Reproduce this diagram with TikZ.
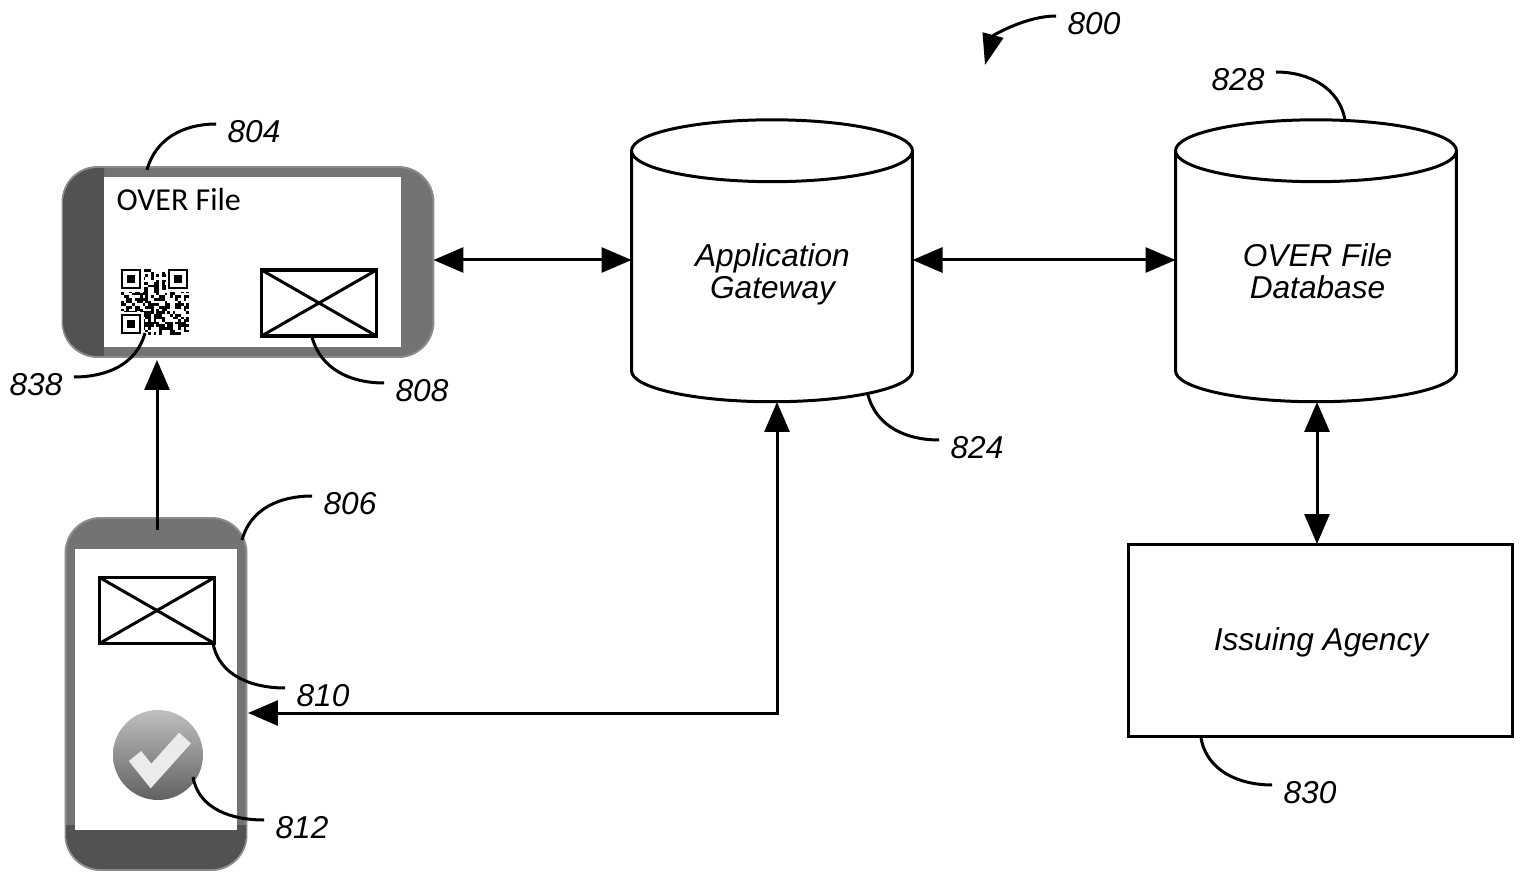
\documentclass[tikz,border=0pt]{standalone}
\usepackage{fontspec}
\setmainfont{Liberation Sans}
\newfontfamily\screenfont{Carlito}
\usetikzlibrary{arrows.meta,calc,positioning,shapes.geometric}

\begin{document}
\begin{tikzpicture}[x=0.02cm,y=-0.02cm,line width=0.06cm,
    bigtext/.style={font=\fontsize{18}{18.2}\selectfont\itshape,align=center},
    reflabel/.style={font=\fontsize{18}{20}\selectfont\itshape,inner sep=0.2cm},
    leader/.style={line width=0.06cm},
    link/.style={{Triangle[length=0.6cm,width=0.5cm]}-{Triangle[length=0.6cm,width=0.5cm]}},
    uplink/.style={-{Triangle[length=0.6cm,width=0.5cm]}},
    dbcyl/.style={cylinder,draw,bigtext,shape border rotate=90,aspect=0.4,minimum width=5.62cm,minimum height=5.64cm,outer sep=0pt,inner sep=0pt},
    phonebody/.style={fill=black!55,draw=black!45,line width=0.04cm,rounded corners=0.7cm,outer sep=0pt},
    screenbox/.style={fill=white,inner sep=0pt,outer sep=0pt},
    envbox/.style={draw,fill=white,line width=0.07cm,minimum width=2.3cm,minimum height=1.32cm,inner sep=0pt,outer sep=0pt}]
  \useasboundingbox (0,0) rectangle (1522,878);
  % Landscape phone
  \node[phonebody,minimum width=7.42cm,minimum height=3.8cm] (phonea) at (248,262) {};
  \fill[black!68] (104,168) [rounded corners=0.7cm] -- (63,168) -- (63,356) [sharp corners] -- (104,356) -- cycle;
  \node[screenbox,minimum width=5.94cm,minimum height=3.4cm] (screena) at (252.5,262) {};
  \node[font=\screenfont\fontsize{18.2}{20}\selectfont,anchor=base west,inner sep=0pt] (overtext) at (115,211) {OVER File};
  \node[envbox] (enva) at (319,303) {};
  \draw (enva.north west)--(enva.south east);
  \draw (enva.south west)--(enva.north east);
  % QR code
  \pgfmathsetseed{838}
  \foreach \i in {0,...,24}{
    \foreach \j in {0,...,24}{
      \pgfmathrandominteger{\cell}{0}{1}
      \ifnum\cell=1
        \fill (121+\i*2.72,269+\j*2.64) rectangle ++(2.72,2.64);
      \fi
    }
  }
  \foreach \qx/\qy in {121/269,168/269,121/314}{
    \fill[white] (\qx-2,\qy-2) rectangle ++(25,25);
    \draw[line width=0.05cm] (\qx+1,\qy+1) rectangle ++(18,18);
    \fill (\qx+6,\qy+6) rectangle ++(8,8);
  }
  % Portrait phone
  \node[phonebody,minimum width=3.62cm,minimum height=7.04cm] (phoneb) at (156,694) {};
  \fill[black!68] (66,825) [rounded corners=0.7cm] -- (66,869) -- (246,869) [sharp corners] -- (246,825) -- cycle;
  \node[screenbox,minimum width=3.24cm,minimum height=5.62cm] (screenb) at (156,689.5) {};
  \node[envbox] (envb) at (157,610.5) {};
  \draw (envb.north west)--(envb.south east);
  \draw (envb.south west)--(envb.north east);
  \node[circle,inner sep=0pt,minimum size=1.8cm,shade,shading angle=45,top color=black!25,bottom color=black!62] (okmark) at (158,755) {};
  \draw[black!8,line width=0.32cm] (135,756)--(151,776)--(185,738);
  % Cylinders and box
  \node[dbcyl] (gateway) at (772,277) {\phantom{Application}\\\phantom{Gateway}};
  \node[dbcyl] (overdb) at (1316,277) {\phantom{Application}\\\phantom{Gateway}};
  \node[bigtext] (gwtext) at (772.5,274) {Application\\Gateway};
  \node[bigtext] (dbtext) at (1317.5,271) {OVER File\\Database};
  \node[draw,minimum width=7.7cm,minimum height=3.86cm,outer sep=0pt] (agency) at (1320.5,640.5) {};
  \node[bigtext] (agtext) at (1321,642) {Issuing Agency};
  % Arrows
  \coordinate (linky) at (0,260);
  \coordinate (upstart) at (157,530);
  \coordinate (upend) at (157,360);
  \coordinate (gwstart) at (777,402);
  \coordinate (pbend) at (248,713);
  \coordinate (dbdown) at (1317,402);
  \draw[uplink] (upstart)--(upend);
  \draw[link] (phonea.east|-linky)--(gateway.west|-linky);
  \draw[link] (gateway.east|-linky)--(overdb.west|-linky);
  \draw[link] (dbdown)--(dbdown|-agency.north);
  \draw[link] (gwstart)|-(pbend);
  % Reference labels
  \node[reflabel] (n800) at (1094,24) {800};
  \node[reflabel] (n828) at (1238,80) {828};
  \node[reflabel] (n804) at (254,132) {804};
  \node[reflabel] (n838) at (36,385) {838};
  \node[reflabel] (n808) at (422,391) {808};
  \node[reflabel] (n806) at (350,504) {806};
  \node[reflabel] (n810) at (323,696) {810};
  \node[reflabel] (n812) at (302,828) {812};
  \node[reflabel] (n824) at (977,448) {824};
  \node[reflabel] (n830) at (1310,793) {830};
  \coordinate (to800) at (985,65);
  \coordinate (to828) at (1345,120);
  \coordinate (to804) at (147,170);
  \coordinate (to838) at (145,333);
  \coordinate (to808) at (312,337);
  \coordinate (to806) at (242,540);
  \coordinate (to810) at (213,643);
  \coordinate (to812) at (193,777);
  \coordinate (to824) at (868,395);
  \coordinate (to830) at (1201,738);
  % Leader lines
  \draw[leader,-{Triangle[length=0.62cm,width=0.42cm]}] ([yshift=0.16cm]n800.west) to[out=180,in=75,looseness=0.9] (to800);
  \draw[leader] ([yshift=0.16cm]n828.east) to[out=0,in=100] (to828);
  \draw[leader] ([yshift=0.16cm]n804.west) to[out=180,in=75] (to804);
  \draw[leader] ([yshift=0.16cm]n838.east) to[out=0,in=255] (to838);
  \draw[leader] ([yshift=0.16cm]n808.west) to[out=180,in=285] (to808);
  \draw[leader] ([yshift=0.16cm]n806.west) to[out=180,in=75] (to806);
  \draw[leader] ([yshift=0.16cm]n810.west) to[out=180,in=280] (to810);
  \draw[leader] ([yshift=0.16cm]n812.west) to[out=180,in=280] (to812);
  \draw[leader] ([yshift=0.16cm]n824.west) to[out=180,in=285] (to824);
  \draw[leader] ([yshift=0.16cm]n830.west) to[out=180,in=280] (to830);
\end{tikzpicture}
\end{document}
